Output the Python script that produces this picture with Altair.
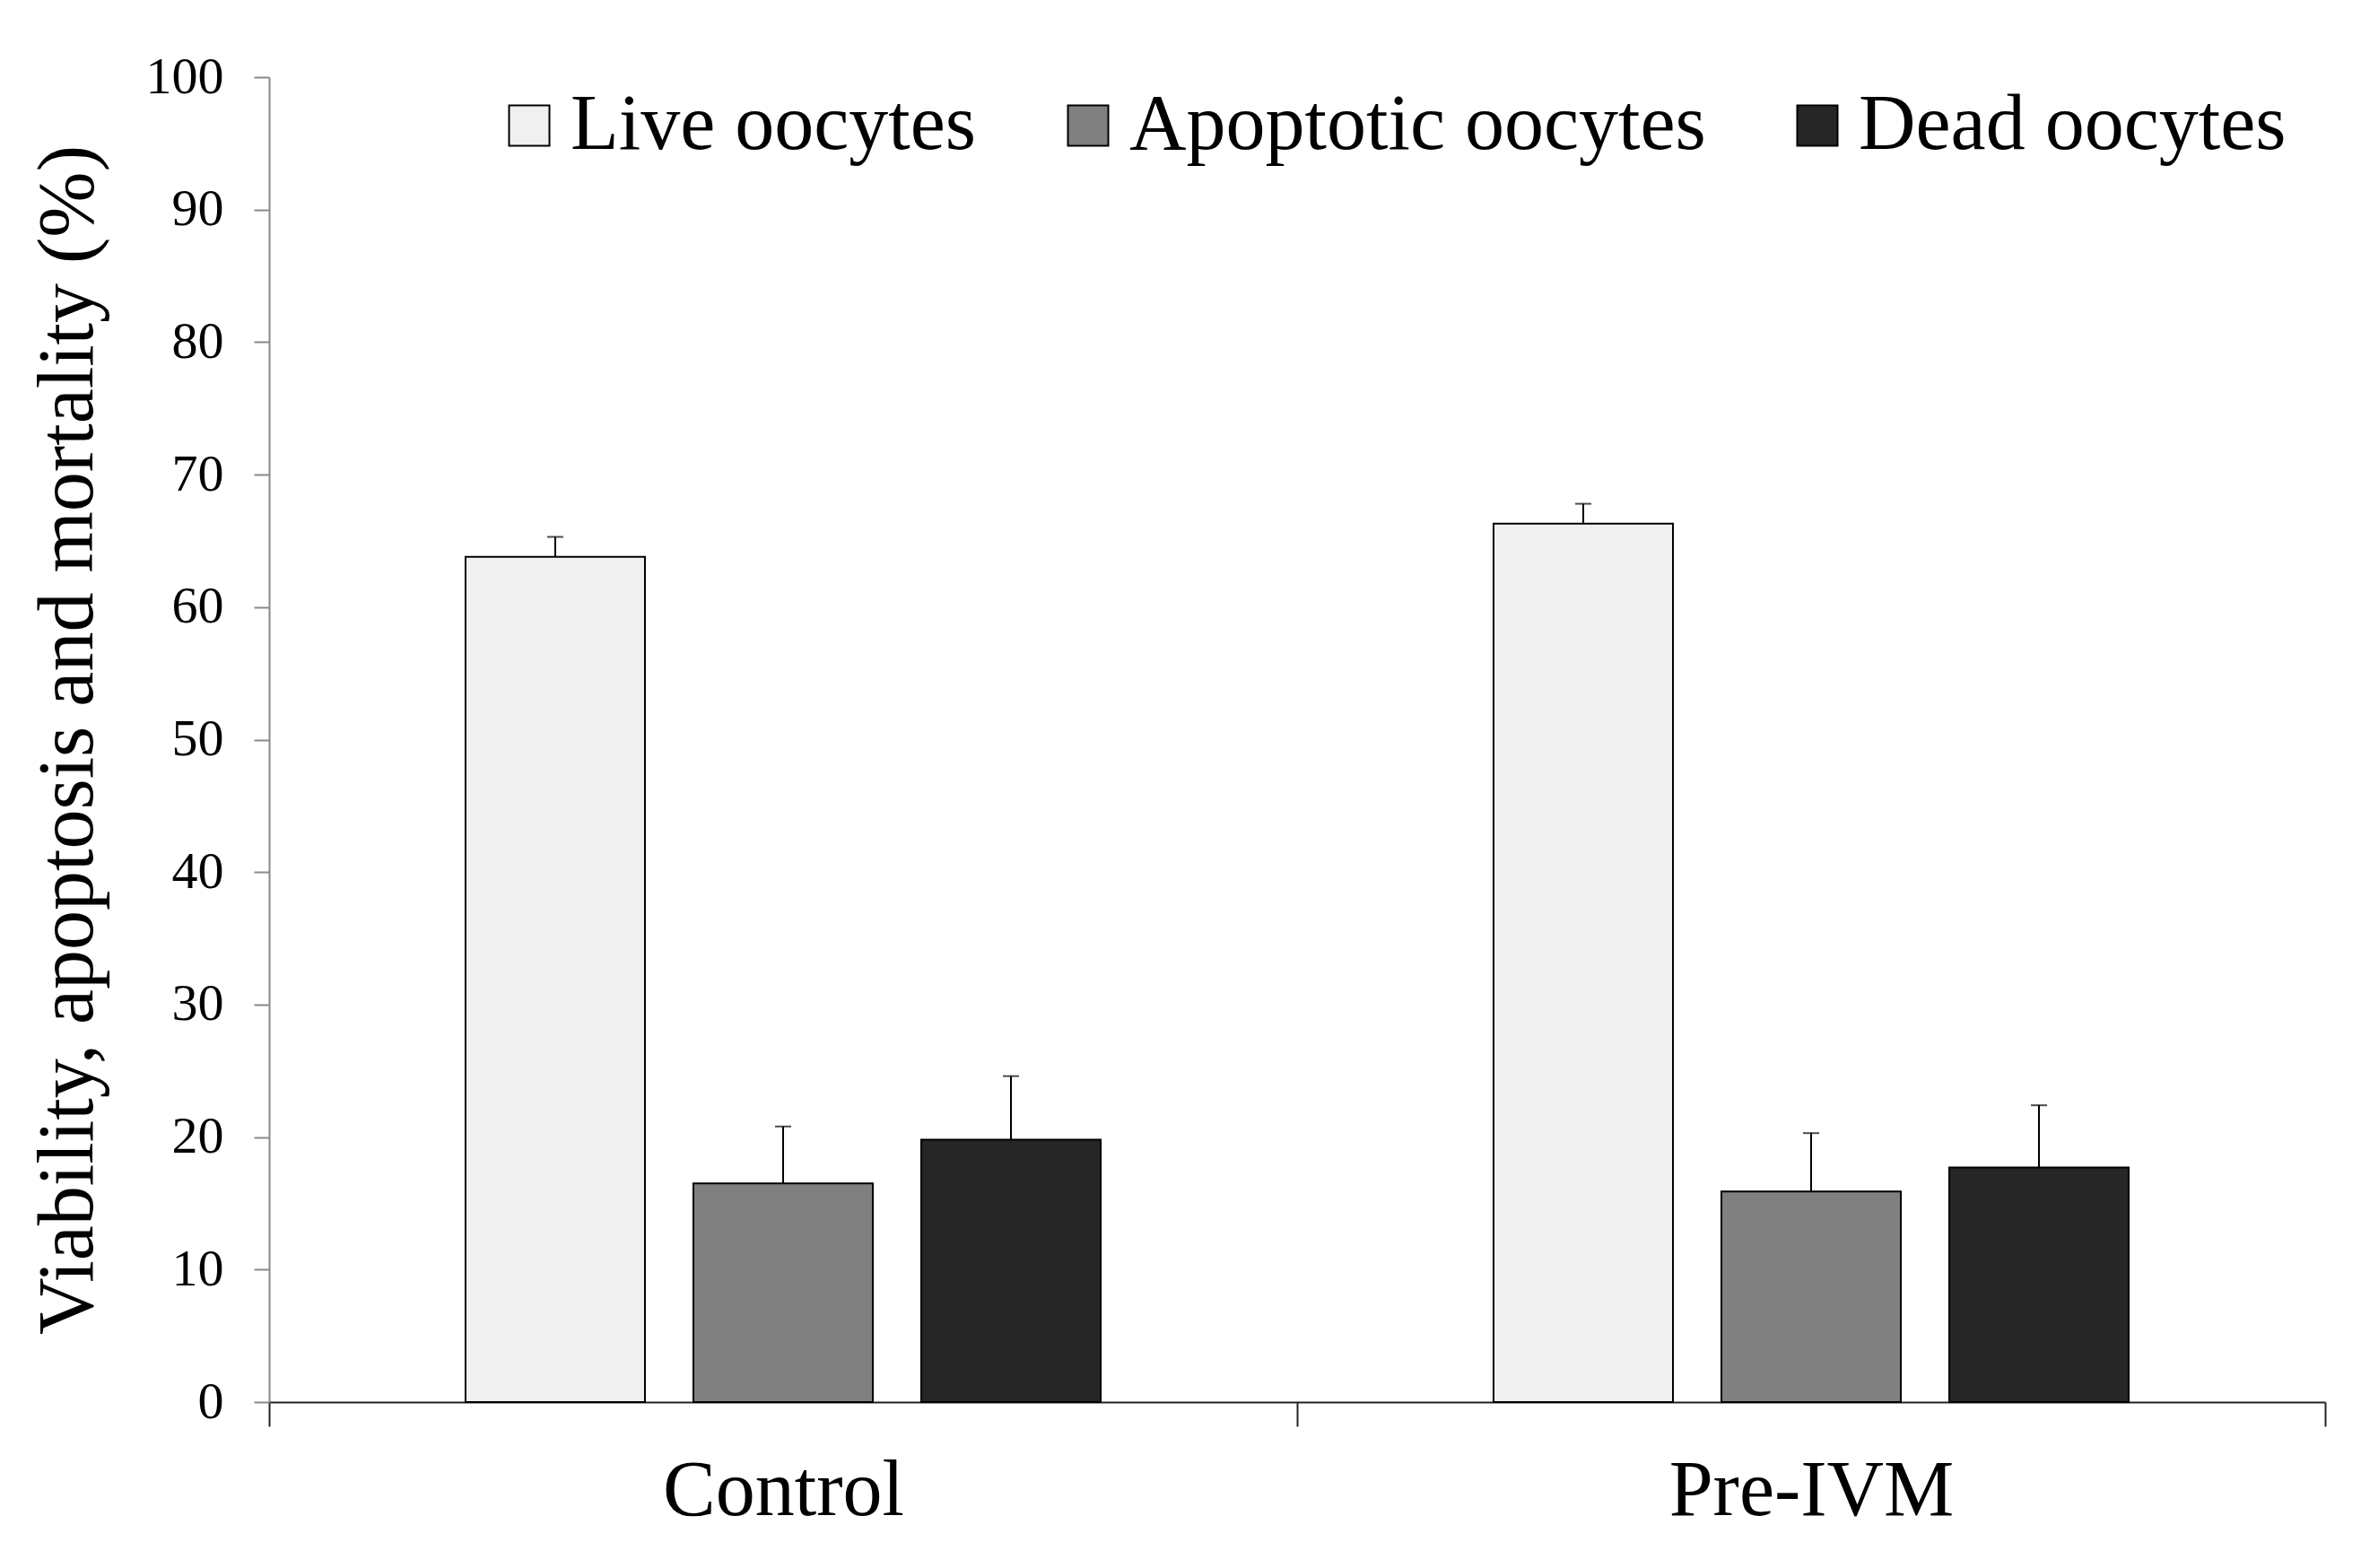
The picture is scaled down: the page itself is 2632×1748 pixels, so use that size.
import altair as alt
import pandas as pd

groups = ["Control", "Pre-IVM"]
series = ["Live oocytes", "Apoptotic oocytes", "Dead oocytes"]
control_mean = [63.8, 16.5, 19.8]
control_err = [1.5, 4.3, 4.8]
preivm_mean = [66.3, 15.9, 17.7]
preivm_err = [1.5, 4.4, 4.7]
colors = ["#f0f0f0", "#808080", "#262626"]
y_ticks = [0, 10, 20, 30, 40, 50, 60, 70, 80, 90, 100]

rows = []
for g, means, errs in [("Control", control_mean, control_err),
                       ("Pre-IVM", preivm_mean, preivm_err)]:
    for s, m, e in zip(series, means, errs):
        rows.append({"group": g, "series": s, "mean": m, "upper": m + e})
df = pd.DataFrame(rows)

FONT = "Liberation Serif"

x = alt.X(
    "group:N", sort=groups,
    scale=alt.Scale(paddingInner=0, paddingOuter=0),
    axis=alt.Axis(
        title=None, labelAngle=0, tickBand="extent", tickSize=27,
        labelFont=FONT, labelFontSize=88, labelColor="black", labelPadding=28,
        labelLimit=2000,
        domainColor="#222222", domainWidth=2, tickColor="#222222", tickWidth=2,
    ),
)
xo = alt.XOffset("series:N", sort=series,
                 scale=alt.Scale(paddingInner=0.2126, paddingOuter=0.862))
y_scale = alt.Scale(domain=[0, 100], nice=False, zero=True)
y_axis = alt.Axis(
    values=y_ticks, title="Viability, apoptosis and mortality (%)",
    titleFont=FONT, titleFontSize=88, titleFontWeight="normal", titleColor="black",
    titlePadding=42,
    labelFont=FONT, labelFontSize=58, labelColor="black", labelPadding=34,
    tickSize=17, tickColor="#888888", tickWidth=2,
    domainColor="#888888", domainWidth=2, grid=False,
)

bars = alt.Chart(df).mark_bar(stroke="black", strokeWidth=2).encode(
    x=x, xOffset=xo,
    y=alt.Y("mean:Q", scale=y_scale, axis=y_axis),
    color=alt.Color(
        "series:N", sort=series,
        scale=alt.Scale(domain=series, range=colors),
        legend=alt.Legend(
            title=None, orient="none", direction="horizontal",
            legendX=246, legendY=10,
            symbolType="square", symbolSize=2025,
            symbolStrokeColor="black", symbolStrokeWidth=2,
            labelFont=FONT, labelFontSize=88, labelColor="black",
            labelOffset=2, columnPadding=80, labelLimit=2000,
        ),
    ),
)

rules = alt.Chart(df).mark_rule(color="black", strokeWidth=2).encode(
    x=x, xOffset=xo,
    y=alt.Y("mean:Q", scale=y_scale),
    y2="upper:Q",
)

caps = alt.Chart(df).mark_tick(color="black", thickness=2, size=18).encode(
    x=x, xOffset=xo,
    y=alt.Y("upper:Q", scale=y_scale),
)

chart = alt.layer(bars, rules, caps).properties(
    width=2292, height=1477,
    autosize=alt.AutoSizeParams(type="none"),
    padding={"left": 292, "top": 78, "right": 20, "bottom": 150},
    background="white",
).configure_view(stroke=None)

chart.save("out.html", embed_options={"renderer": "svg", "actions": False})
